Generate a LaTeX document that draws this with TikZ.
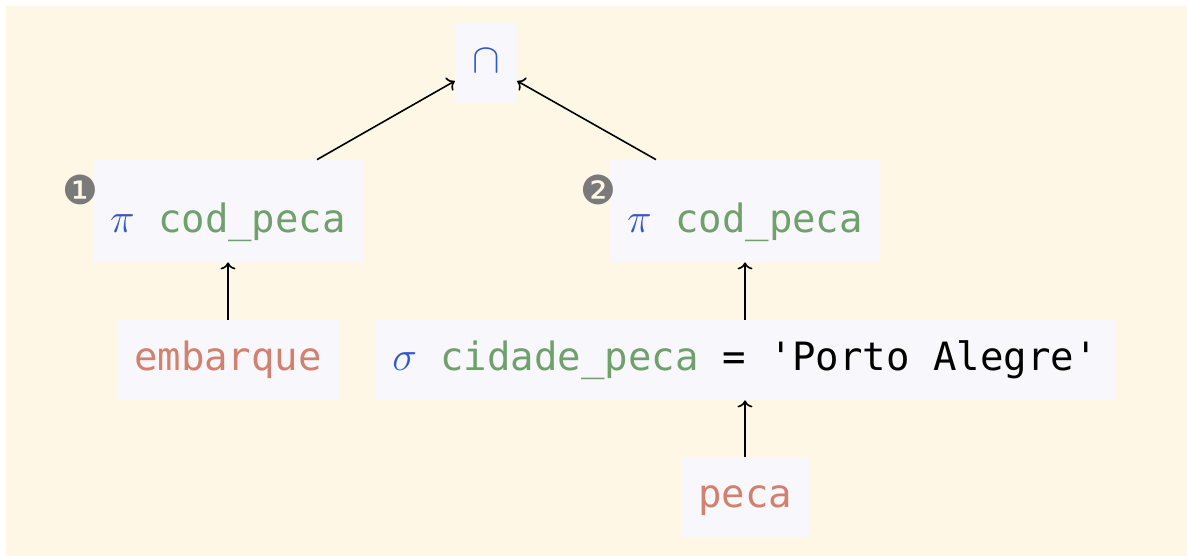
\documentclass[tikz,border=0pt]{standalone}
\usepackage{fontspec}
\setmonofont{DejaVu Sans Mono}
\newfontfamily\dingfont{DejaVu Sans}
\usetikzlibrary{arrows.meta}
\definecolor{bgc}{RGB}{255,247,230}
\definecolor{boxc}{RGB}{248,248,252}
\definecolor{opc}{RGB}{50,88,205}
\definecolor{attc}{RGB}{112,160,108}
\definecolor{relc}{RGB}{212,128,110}
\definecolor{numc}{RGB}{122,122,122}
\tikzset{op/.style={fill=boxc,inner xsep=8.5pt,minimum height=40pt,text height=14.5pt,text depth=4.5pt,
font=\fontsize{19.5}{24}\selectfont\ttfamily},
proj/.style={op,minimum height=51pt,text height=25pt,text depth=4pt},
rel/.style={op,text=relc},
num/.style={text=numc,inner sep=0pt,font=\fontsize{20}{24}\selectfont\dingfont},
arr/.style={-{To[length=3.5pt,width=7.5pt]},line width=0.8pt}}
\begin{document}
\begin{tikzpicture}[x=0.5pt,y=-0.5pt]
\useasboundingbox (0,0) rectangle (1187,556);
\fill[bgc] (6,6) rectangle (1187,556);
\node[op] (cap) at (486,63) {\color{opc}$\cap$};
\node[proj] (p1) at (228,211) {\color{opc}$\pi$\ {\color{attc}cod\_peca}};
\node[proj] (p2) at (745,211) {\color{opc}$\pi$\ {\color{attc}cod\_peca}};
\node[rel] (emb) at (228,360) {embarque};
\node[op] (sel) at (745,360) {{\color{opc}$\sigma$}\ {\color{attc}cidade\_peca} = 'Porto Alegre'};
\node[rel] (peca) at (745,497) {peca};
\node[num] (n1) at (80,190) {❶};
\node[num] (n2) at (598,190) {❷};
\draw[arr] (p1.30) -- (cap.210);
\draw[arr] (p2.150) -- (cap.330);
\draw[arr] (emb) -- (p1);
\draw[arr] (sel) -- (p2);
\draw[arr] (peca) -- (sel);
\end{tikzpicture}
\end{document}
